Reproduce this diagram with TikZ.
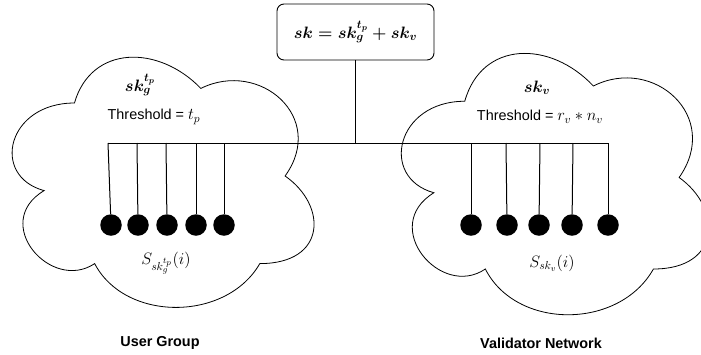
\RequirePackage{fix-cm}
\documentclass[tikz,border=0pt]{standalone}
\usepackage{amsmath}
\usepackage{fontspec}
\setmainfont{Liberation Sans}
% math is set a little larger than the surrounding sans text
\DeclareMathSizes{14.4}{16.5}{11.6}{8.6}
% outline of a cloud in a unit frame (y pointing down)
\newcommand\cloudoutline{(0.25,0.25) .. controls (0.05,0.25) and (0,0.5) .. (0.16,0.55)
  .. controls (0,0.66) and (0.18,0.9) .. (0.31,0.8)
  .. controls (0.4,1) and (0.7,1) .. (0.8,0.8)
  .. controls (1,0.8) and (1,0.6) .. (0.875,0.5)
  .. controls (1,0.3) and (0.8,0.1) .. (0.625,0.2)
  .. controls (0.5,0.05) and (0.3,0.05) .. (0.25,0.25) -- cycle}
\begin{document}
\begin{tikzpicture}[x=1pt,y=-1pt,
  cloudline/.style={draw=black,line width=0.8pt},
  wire/.style={draw=black,line width=1pt},
  dot/.style={circle,fill=black,inner sep=0pt,minimum size=21.5pt},
  keybox/.style={draw=black,rounded corners=7pt,line width=0.9pt,
    minimum width=157pt,minimum height=56pt,inner sep=0pt},
  lbl/.style={inner sep=0pt,font=\fontsize{14.4}{17}\selectfont},
  title/.style={inner sep=0pt,font=\fontsize{14.4}{17}\selectfont\bfseries}]
\fill[white] (0,0) rectangle (701,354);
\useasboundingbox (0,0) rectangle (701,354);

% the two groups
\begin{scope}[shift={(-9.8,30)},x=337pt,y=-292pt]
  \draw[cloudline] \cloudoutline;
\end{scope}
\begin{scope}[shift={(379,25)},x=343pt,y=-305pt]
  \draw[cloudline] \cloudoutline;
\end{scope}

% combined key
\node[keybox,lbl] (sum) at (355.5,32) {$\boldsymbol{sk = sk_g^{t_p} + sk_v}$};
\coordinate (busmid) at (355.5,143);

% share holders
\foreach \i/\x/\t in {1/111/108,2/138/137,3/167/166,4/196/196,5/224/224}{
  \node[dot] (l\i) at (\x,225) {};
  \coordinate (lt\i) at (\t,143);
}
\foreach \i/\x/\t in {1/471/471,2/507/506,3/539/540,4/572/573,5/608/608}{
  \node[dot] (r\i) at (\x,225) {};
  \coordinate (rt\i) at (\t,143);
}

% wiring
\draw[wire] (sum) -- (busmid);
\draw[wire] (lt1) -- (rt5);
\foreach \i in {1,...,5}{
  \draw[wire] (lt\i) -- (l\i);
  \draw[wire] (rt\i) -- (r\i);
}

% labels
\node[lbl] (lkey) at (140,85) {$\boldsymbol{sk_g^{t_p}}$};
\node[lbl] (lthr) at (154,117) {Threshold = $t_p$};
\node[lbl] (lshare) at (166,263) {$S_{sk_g^{t_p}}(i)$};
\node[lbl] (rkey) at (537,88) {$\boldsymbol{sk_v}$};
\node[lbl] (rthr) at (540,117) {Threshold = $r_v * n_v$};
\node[lbl] (rshare) at (552,263) {$S_{sk_v}(i)$};
\node[title] (lname) at (160,343) {User Group};
\node[title] (rname) at (541,343) {Validator Network};
\end{tikzpicture}
\end{document}
